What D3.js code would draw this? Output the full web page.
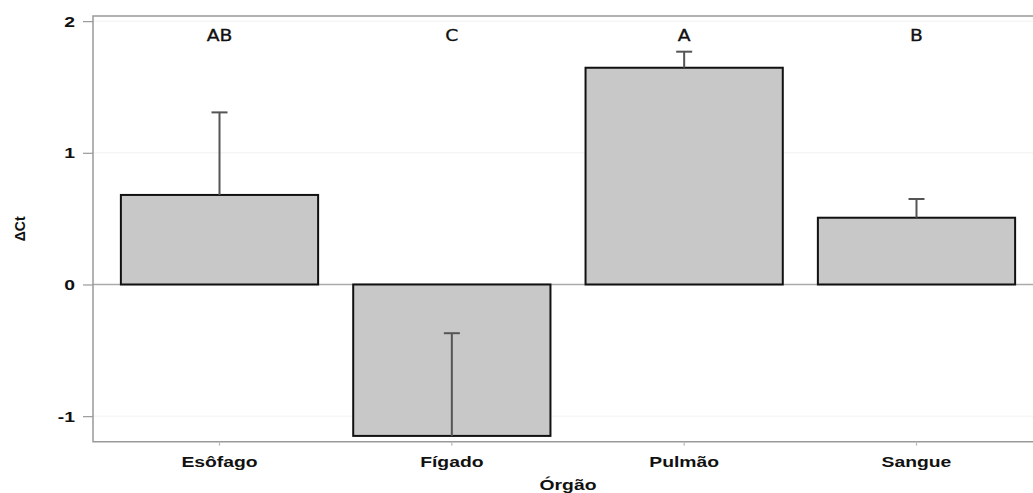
<!DOCTYPE html>
<html><head><meta charset="utf-8">
<script src="https://cdn.jsdelivr.net/npm/d3@7"></script>
<style>body{margin:0;background:#fff}svg{display:block}</style>
</head><body>
<svg id="c" width="1033" height="493"></svg>
<script>
const categories = ["Esôfago", "Fígado", "Pulmão", "Sangue"];
const values = [0.68, -1.15, 1.646, 0.507];
const errorTops = [1.307, -0.37, 1.768, 0.649];
const groupLetters = ["AB", "C", "A", "B"];
const yTicks = [-1, 0, 1, 2];
const xTitle = "Órgão";
const yTitle = "ΔCt";

const svg = d3.select("#c");
const L = 93, R = 1043, T = 16, B = 441.7;
const SX = 1.38;
const x = d3.scaleBand().domain(categories).range([L, R]).paddingInner(0.151).paddingOuter(0.12);
const y = d3.scaleLinear().domain([-1.194, 2.039]).range([B, T]);
const fmt = d => String(d);

// grid lines
svg.append("g").selectAll("line").data(yTicks).join("line")
  .attr("x1", L).attr("x2", R).attr("y1", d => y(d)).attr("y2", d => y(d))
  .attr("stroke", "#f1f1f1").attr("stroke-width", 1);

// zero line
svg.append("line").attr("x1", L).attr("x2", R).attr("y1", y(0)).attr("y2", y(0))
  .attr("stroke", "#aaa").attr("stroke-width", 1.5);

// bars
svg.append("g").selectAll("rect").data(categories).join("rect")
  .attr("x", d => x(d))
  .attr("width", x.bandwidth())
  .attr("y", (d, i) => y(Math.max(0, values[i])))
  .attr("height", (d, i) => Math.abs(y(values[i]) - y(0)))
  .attr("fill", "#c8c8c8").attr("stroke", "#111").attr("stroke-width", 2);

// error bars
const eg = svg.append("g").attr("stroke", "#555").attr("stroke-width", 2);
categories.forEach((c, i) => {
  const cx = x(c) + x.bandwidth() / 2;
  eg.append("line").attr("x1", cx).attr("x2", cx).attr("y1", y(values[i])).attr("y2", y(errorTops[i]));
  eg.append("line").attr("x1", cx - 8).attr("x2", cx + 8).attr("y1", y(errorTops[i])).attr("y2", y(errorTops[i]));
});

// frame (left, top, bottom)
svg.append("path").attr("d", `M${R},${T}H${L}V${B}H${R}`)
  .attr("fill", "none").attr("stroke", "#999").attr("stroke-width", 1.5);

// y axis
const yAxis = d3.axisLeft(y).tickValues(yTicks).tickSize(10).tickPadding(0).tickFormat(fmt);
const ya = svg.append("g").attr("transform", `translate(${L},0)`).call(yAxis);
ya.select(".domain").remove();
ya.selectAll(".tick line").attr("stroke", "#999").attr("stroke-width", 1.2);
ya.selectAll(".tick text").remove();
ya.selectAll(".tick").append("text")
  .attr("transform", `translate(-18,0) scale(${SX},1)`)
  .attr("dy", "0.35em").attr("text-anchor", "end")
  .attr("font-family", "Liberation Sans, Arial, sans-serif").attr("font-weight", "bold")
  .attr("font-size", 14).attr("fill", "#111")
  .text(fmt);

// x axis
const xAxis = d3.axisBottom(x).tickSize(4).tickPadding(0);
const xa = svg.append("g").attr("transform", `translate(0,${B})`).call(xAxis);
xa.select(".domain").remove();
xa.selectAll(".tick line").attr("stroke", "#bbb").attr("stroke-width", 1.2);
xa.selectAll(".tick text").remove();
xa.selectAll(".tick").append("text")
  .attr("transform", `translate(0,25) scale(${SX},1)`)
  .attr("text-anchor", "middle")
  .attr("font-family", "Liberation Sans, Arial, sans-serif").attr("font-weight", "bold")
  .attr("font-size", 14).attr("fill", "#111")
  .text(d => d);

// group letters
svg.append("g").selectAll("text").data(categories).join("text")
  .attr("transform", d => `translate(${x(d) + x.bandwidth() / 2},41) scale(1.25,1)`)
  .attr("text-anchor", "middle")
  .attr("font-family", "DejaVu Sans, sans-serif")
  .attr("font-size", 15).attr("fill", "#111")
  .attr("stroke", "#111").attr("stroke-width", 0.3)
  .text((d, i) => groupLetters[i]);

// axis titles
svg.append("text")
  .attr("transform", `translate(${(L + R) / 2},490) scale(${SX},1)`)
  .attr("text-anchor", "middle")
  .attr("font-family", "Liberation Sans, Arial, sans-serif").attr("font-weight", "bold")
  .attr("font-size", 14).attr("fill", "#111").text(xTitle);

svg.append("text")
  .attr("transform", `translate(25,${(T + B) / 2}) rotate(-90)`)
  .attr("text-anchor", "middle")
  .attr("font-family", "Liberation Sans, Arial, sans-serif").attr("font-weight", "bold")
  .attr("font-size", 14).attr("fill", "#111").text(yTitle);
</script>
</body></html>
